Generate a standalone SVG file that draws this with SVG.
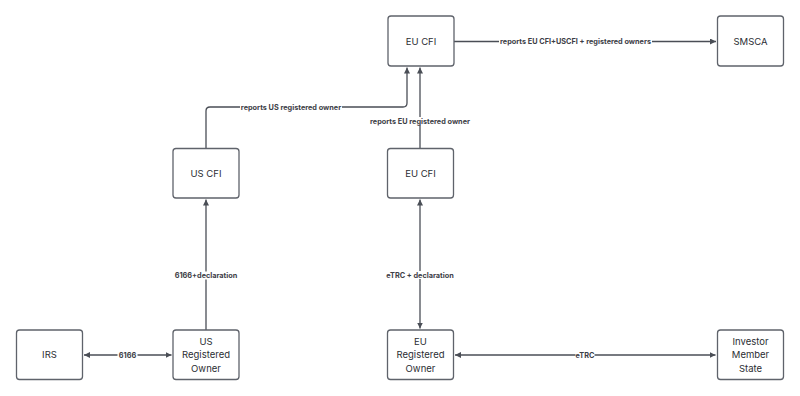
<svg xmlns="http://www.w3.org/2000/svg" width="800" height="396" viewBox="0 0 800 396">
<style>
.box{fill:#ffffff;stroke:#5f636b;stroke-width:1.3}
.nt{font-family:Inter,"Liberation Sans",sans-serif;font-size:9.5px;fill:#2b2e33;text-anchor:middle}
.edge{fill:none;stroke:#4a4e56;stroke-width:1.3}
.lbl{font-family:Inter,"Liberation Sans",sans-serif;font-size:7.3px;font-weight:bold;fill:#3d4047;text-anchor:middle}
.lblbg{fill:#ffffff}
</style>
<defs>
<marker id="ah" viewBox="0 0 10 10" refX="10" refY="5" markerWidth="6" markerHeight="6" markerUnits="userSpaceOnUse" orient="auto-start-reverse">
<path d="M0,0 L10,5 L0,10 z" fill="#4a4e56"/>
</marker>
</defs>
<rect width="800" height="396" fill="#ffffff"/>
<g id="connectors">
<path class="edge" d="M206,148 V111 Q206,107 210,107 H403 Q407,107 407,103 V67.5" marker-end="url(#ah)"/>
<path class="edge" d="M420,148 V67.5" marker-end="url(#ah)"/>
<path class="edge" d="M454,41.5 H716" marker-end="url(#ah)"/>
<path class="edge" d="M206,330 V199.5" marker-end="url(#ah)"/>
<path class="edge" d="M84,355 H171.5" marker-start="url(#ah)" marker-end="url(#ah)"/>
<path class="edge" d="M420,199.5 V328.5" marker-start="url(#ah)" marker-end="url(#ah)"/>
<path class="edge" d="M455,355 H715.5" marker-start="url(#ah)" marker-end="url(#ah)"/>
<rect class="lblbg" x="240" y="103" width="102" height="8"/>
<text class="lbl" x="291" y="109.6">reports US registered owner</text>
<rect class="lblbg" x="369" y="117" width="102" height="8"/>
<text class="lbl" x="420" y="123.6">reports EU registered owner</text>
<rect class="lblbg" x="499" y="37.5" width="153" height="8"/>
<text class="lbl" x="575.5" y="44.1">reports EU CFI+USCFI + registered owners</text>
<rect class="lblbg" x="174" y="271.5" width="64" height="8"/>
<text class="lbl" x="206" y="278.1">6166+declaration</text>
<rect class="lblbg" x="117.5" y="351" width="20" height="8"/>
<text class="lbl" x="127.5" y="357.6">6166</text>
<rect class="lblbg" x="386" y="271" width="68" height="8"/>
<text class="lbl" x="420" y="277.6">eTRC + declaration</text>
<rect class="lblbg" x="575.5" y="351" width="19" height="8"/>
<text class="lbl" x="585" y="357.6">eTRC</text>
</g>
<g id="eu-cfi-top">
<rect class="box" x="388" y="16" width="66" height="50" rx="3"/>
<text class="nt" x="421" y="44.5">EU CFI</text>
</g>
<g id="smsca">
<rect class="box" x="717.5" y="16" width="66" height="50" rx="3"/>
<text class="nt" x="750.5" y="44.5">SMSCA</text>
</g>
<g id="us-cfi">
<rect class="box" x="173" y="148.5" width="66" height="49.5" rx="3"/>
<text class="nt" x="206" y="176.5">US CFI</text>
</g>
<g id="eu-cfi-mid">
<rect class="box" x="387.5" y="148.5" width="66" height="49.5" rx="3"/>
<text class="nt" x="420.5" y="176.5">EU CFI</text>
</g>
<g id="irs">
<rect class="box" x="16.5" y="330" width="66" height="49.5" rx="3"/>
<text class="nt" x="49.5" y="358">IRS</text>
</g>
<g id="us-registered-owner">
<rect class="box" x="173" y="330" width="66" height="49.5" rx="3"/>
<text class="nt" x="206" y="344.5">US</text>
<text class="nt" x="206" y="358">Registered</text>
<text class="nt" x="206" y="371.5">Owner</text>
</g>
<g id="eu-registered-owner">
<rect class="box" x="387.5" y="330" width="66" height="49.5" rx="3"/>
<text class="nt" x="420.5" y="344.5">EU</text>
<text class="nt" x="420.5" y="358">Registered</text>
<text class="nt" x="420.5" y="371.5">Owner</text>
</g>
<g id="investor-member-state">
<rect class="box" x="717.5" y="330" width="66" height="49.5" rx="3"/>
<text class="nt" x="750.5" y="344.5">Investor</text>
<text class="nt" x="750.5" y="358">Member</text>
<text class="nt" x="750.5" y="371.5">State</text>
</g>
</svg>
